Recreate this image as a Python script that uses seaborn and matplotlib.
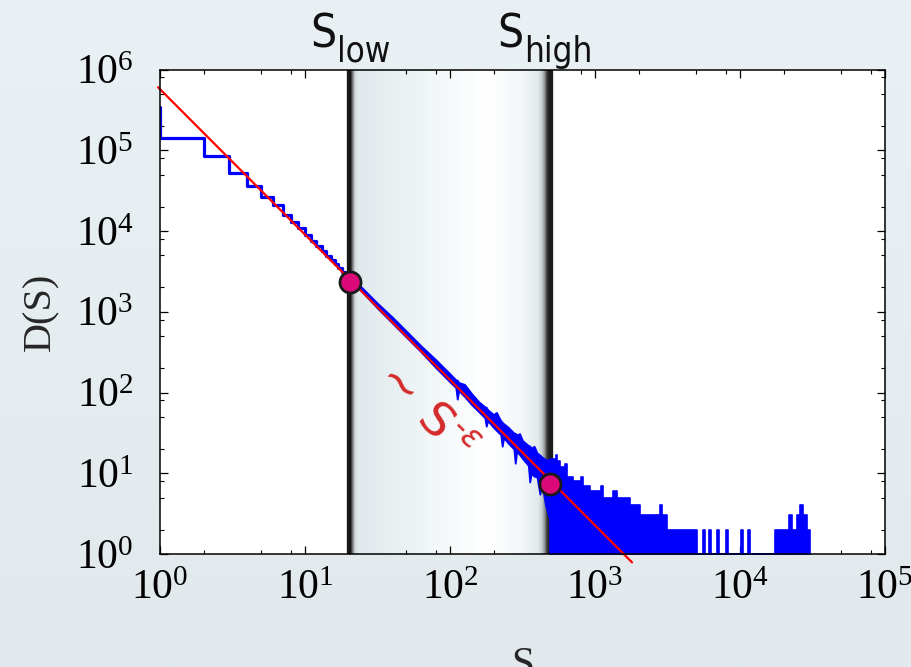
import numpy as np
import matplotlib
matplotlib.use("Agg")
import matplotlib.pyplot as plt
import seaborn as sns
import pandas as pd
from matplotlib.colors import LinearSegmentedColormap
from matplotlib.ticker import LogLocator, NullFormatter, FixedLocator

# ---------------- data ----------------
head_S = list(range(1, 21))
head_D = [3.46e5, 1.41e5, 8.5e4, 5.2e4, 3.64e4, 2.61e4, 2.1e4, 1.58e4, 1.30e4, 1.08e4,
          8.9e3, 7.6e3, 6.5e3, 5.6e3, 4.9e3, 4.4e3, 3.9e3, 3.5e3, 3.1e3, 2.77e3]

# noisy middle part of the histogram: upper / lower envelope
band_S = [20, 25.1, 31.6, 39.8, 50.1, 63.1, 79.4, 100, 109.6, 112.2, 114.8, 125.9,
          141, 158.5, 173.8, 177.8, 182, 199.5, 208.9, 223.9, 229.1, 234.4, 251.2,
          275.4, 281.8, 288.4, 302, 316.2, 346.7, 354.8, 363.1, 380.2, 398.1, 416.9,
          426.6, 457.1, 489.8]
band_hi = [2909, 1930, 1275, 867, 573, 378, 257, 170, 144, 142, 133, 126,
           96.6, 76.3, 66.5, 65.7, 61.2, 53.4, 56.7, 44.7, 42.8, 41.1, 37.3,
           31.6, 31.2, 30.0, 30.9, 25.4, 22.1, 21.8, 20.4, 21.6, 17.8, 16.8,
           16.1, 14.7, 14.5]
band_lo = [2596, 1722, 1106, 731, 483, 319, 205, 135, 115, 82.7, 105.5, 89.4,
           70.6, 57.4, 48.6, 38.2, 44.8, 36.9, 33.9, 30.0, 21.6, 27.6, 23.7,
           20.0, 13.3, 18.5, 17.0, 15.2, 12.5, 7.8, 10.0, 9.2, 9.0, 5.5,
           7.9, 3.95, 2.6]

# sparse tail (step values)
tail_S = [490, 538, 547, 574, 621, 641, 705, 801, 826, 924, 1100,
          1136, 1331, 1418, 1662, 1743, 1949, 2044, 2807, 2898, 3138, 5050, 5557, 5736, 6112,
          6310, 6940, 7166, 8008, 8264, 10160, 10490, 11360, 11720, 17430,
          21780, 22660, 24600, 25940, 27200, 28840, 30400]
tail_D = [15, 17, 14, 12, 13, 9, 8, 9, 7, 6, 7,
          5, 6, 5, 5, 4, 4, 3, 4, 3, 2, 1, 2, 1, 2,
          1, 2, 1, 2, 1, 2, 1, 2, 1, 2,
          3, 2, 3, 4, 3, 2, 2]

fit_A = 5.7e5
fit_eps = 1.8
fit_range = [0.97, 1800]

S_low, S_high = 20, 500
circle_S = [20.5, 490]
circle_D = [2335, 7.4]

x_ticks = [1, 10, 100, 1000, 1e4, 1e5]
y_ticks = [1, 10, 100, 1000, 1e4, 1e5, 1e6]

# ---------------- style ----------------
sns.set_style("ticks")
plt.rcParams.update({
    "font.family": ["Liberation Serif", "DejaVu Serif"],
    "mathtext.fontset": "custom",
    "mathtext.rm": "Liberation Serif",
    "mathtext.it": "Liberation Serif:italic",
    "mathtext.bf": "Liberation Serif:bold",
    "axes.edgecolor": "black",
    "axes.linewidth": 1.1,
})

W, H = 912, 667
fig = plt.figure(figsize=(W / 100, H / 100), dpi=100)

# background gradient of the figure
bg = fig.add_axes([0, 0, 1, 1], zorder=-10)
bg_cmap = LinearSegmentedColormap.from_list("bg", ["#e9f1f4", "#e1e9ec"])
bg.imshow(np.linspace(0, 1, 256)[:, None], aspect="auto", cmap=bg_cmap,
          extent=[0, 1, 0, 1], origin="upper")
bg.set_axis_off()

def px_ax(x0, y0, x1, y1):
    return [x0 / W, 1 - y1 / H, (x1 - x0) / W, (y1 - y0) / H]

ax = fig.add_axes(px_ax(160, 69.5, 885, 554))
ax.set_facecolor("white")
ax.set_xscale("log")
ax.set_yscale("log")
ax.set_xlim(1, 1e5)
ax.set_ylim(1, 1e6)

# shaded band between S_low and S_high
band_cmap = LinearSegmentedColormap.from_list("band", [
    (0.0, "#1a1a1a"), (0.008, "#222222"), (0.018, "#8a8f91"), (0.032, "#d6dfe2"),
    (0.05, "#e0e9ec"), (0.35, "#eef4f6"), (0.68, "#ffffff"), (0.86, "#f2f6f8"),
    (0.94, "#e0e8eb"), (0.962, "#b9c0c2"), (0.978, "#555555"), (0.99, "#1e1e1e"),
    (1.0, "#1e1e1e")])
edges = np.logspace(np.log10(S_low), np.log10(S_high), 400)
ax.pcolormesh(edges, [1, 1e6], np.linspace(0, 1, 399)[None, :], cmap=band_cmap,
              shading="flat", zorder=0.5)
ax.axvline(S_low, color="#161616", lw=3.1, zorder=0.6)
ax.axvline(S_high, color="#1c1c1c", lw=2.4, zorder=0.6)

# histogram D(S)
df_head = pd.DataFrame({"S": head_S, "D": head_D})
sns.lineplot(data=df_head, x="S", y="D", ax=ax, color="#0000ff", lw=2.3,
             drawstyle="steps-pre", estimator=None, sort=False, zorder=2)
ax.fill_between(band_S, band_lo, band_hi, color="#0000ff", lw=1.3,
                edgecolor="#0000ff", zorder=2)
ax.fill_between(tail_S, 1, tail_D, step="post", color="#0000ff", lw=1.2,
                edgecolor="#0000ff", zorder=2)

# power-law fit
fit_S = np.array(fit_range)
df_fit = pd.DataFrame({"S": fit_S, "D": fit_A * fit_S ** (-fit_eps)})
sns.lineplot(data=df_fit, x="S", y="D", ax=ax, color="#ff0000", lw=1.6,
             estimator=None, sort=False, zorder=3)
ax.lines[-1].set_clip_on(False)

# circles
sns.scatterplot(x=circle_S, y=circle_D, ax=ax, s=230, color="#dc0a78",
                edgecolor="#1a1a1a", linewidth=2.0, zorder=5)

ax.text(63, 60, r"$\sim\,\mathrm{S}^{\text{-}\varepsilon}$", rotation=-45,
        rotation_mode="anchor", ha="center", va="center", color="#d42a2a",
        fontsize=34, math_fontfamily="dejavusans", zorder=4)

# axes decoration
ax.xaxis.set_major_locator(FixedLocator(x_ticks))
ax.yaxis.set_major_locator(FixedLocator(y_ticks))
ax.xaxis.set_minor_locator(LogLocator(base=10, subs=(2, 5, 8), numticks=50))
ax.yaxis.set_minor_locator(LogLocator(base=10, subs=(2, 5, 8), numticks=50))
ax.xaxis.set_minor_formatter(NullFormatter())
ax.yaxis.set_minor_formatter(NullFormatter())
ax.tick_params(which="both", direction="in", top=True, right=True, colors="black")
ax.tick_params(which="major", length=5.5, width=0.9, labelsize=30)
ax.tick_params(axis="x", which="major", pad=11)
ax.tick_params(axis="y", which="major", pad=19)
ax.tick_params(which="minor", length=3, width=0.8)
for sp in ax.spines.values():
    sp.set_visible(True)
    sp.set_linewidth(1.1)
    sp.set_zorder(6)

ax.set_xlabel("S", fontsize=30, labelpad=28)
ax.set_ylabel("D(S)", fontsize=29, labelpad=12)

# S_low / S_high labels
sans = ["DejaVu Sans"]
for x_left, sub in [(310, "low"), (497, "high")]:
    t = fig.text(x_left / W, 1 - 47 / H, "S", fontsize=33, family=sans,
                 fontstretch="condensed", ha="left", va="baseline", color="#111111")
    fig.canvas.draw()
    bb = t.get_window_extent()
    fig.text((bb.x1 + 1) / W, 1 - 62 / H, sub, fontsize=25, family=sans,
             fontstretch="condensed", ha="left", va="baseline", color="#111111")

fig.savefig("out.png", dpi=100)
